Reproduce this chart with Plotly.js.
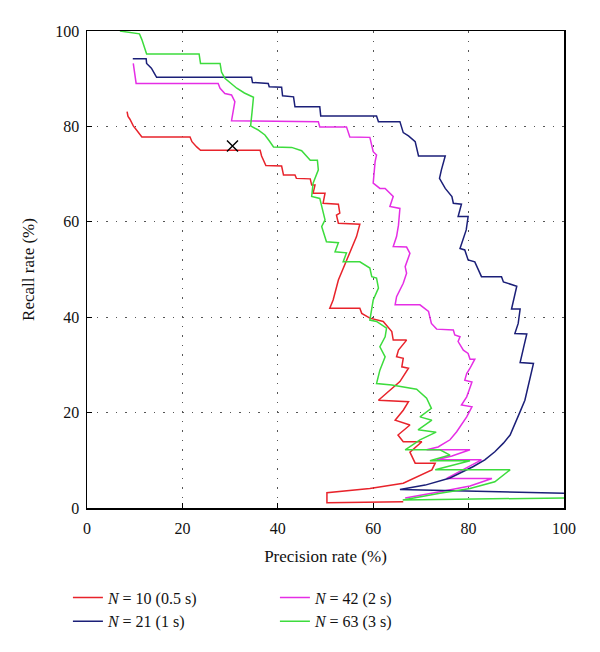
<!DOCTYPE html>
<html>
<head>
<meta charset="utf-8">
<script src="https://cdn.plot.ly/plotly-3.0.1.min.js"></script>
<style>
  html, body { margin: 0; padding: 0; background: #fff; }
  #chart { width: 600px; height: 652px; }
</style>
</head>
<body>
<div id="chart"></div>
<script>
// ── Data: [precision %, recall %] ─────────────────────────────
const redPts = [
  [8.4, 83.1], [8.6, 82.1], [9.0, 81.5], [9.3, 80.8], [9.7, 80.1], [10.1, 79.6],
  [10.8, 78.8], [11.5, 77.8], [21.6, 77.8], [22.0, 76.8], [23.0, 75.7], [23.8, 75.0],
  [36.3, 75.0], [36.6, 73.8], [37.5, 71.8], [40.8, 71.7], [41.2, 69.8], [43.6, 69.8],
  [43.9, 69.1], [46.8, 69.0], [47.1, 67.7], [47.8, 67.7], [47.4, 66.0], [49.9, 66.0],
  [49.5, 63.9], [52.7, 63.7], [53.0, 61.8], [52.3, 61.4], [52.7, 59.7], [57.2, 59.5],
  [56.5, 56.9], [54.4, 52.0], [52.7, 47.8], [51.6, 43.6], [50.9, 41.9], [57.2, 41.9],
  [57.6, 40.8], [59.3, 39.8], [62.1, 39.1], [63.9, 37.0], [64.2, 35.2], [67.0, 35.2],
  [65.3, 33.1], [64.9, 31.7], [66.3, 31.4], [66.0, 29.6], [67.4, 29.3], [65.6, 26.5],
  [63.5, 24.7], [61.1, 22.6], [67.4, 22.3], [66.3, 20.5], [64.6, 18.4], [67.7, 17.4],
  [65.2, 15.3], [66.3, 13.9], [70.2, 13.9], [67.7, 11.7], [68.8, 9.4], [73.0, 9.4],
  [72.3, 8.0], [66.3, 5.2], [59.3, 4.1], [50.3, 3.2], [50.3, 1.1], [66.3, 1.3]
];

const magentaPts = [
  [9.7, 93.2], [9.9, 91.8], [10.1, 90.5], [10.3, 89.0], [27.5, 89.0], [27.9, 88.0],
  [28.9, 86.9], [30.3, 86.6], [31.0, 85.2], [30.7, 83.4], [30.3, 81.2], [48.5, 81.0],
  [48.8, 79.9], [54.4, 79.9], [55.1, 77.8], [59.3, 77.7], [60.0, 74.7], [60.7, 74.0],
  [60.4, 72.6], [60.0, 68.1], [61.4, 67.0], [62.5, 67.0], [64.2, 65.3], [63.5, 63.2],
  [65.6, 62.8], [65.3, 59.3], [64.9, 56.9], [64.2, 54.8], [67.0, 54.7], [67.7, 53.4],
  [66.7, 50.6], [67.0, 49.2], [66.3, 47.1], [64.9, 44.3], [64.6, 42.6], [69.8, 42.6],
  [71.6, 41.2], [72.2, 38.7], [73.3, 37.5], [76.8, 37.3], [77.1, 36.3], [78.2, 35.9],
  [77.8, 34.9], [78.9, 33.1], [79.9, 32.4], [80.3, 31.2], [81.3, 31.2], [80.3, 29.3],
  [79.6, 28.2], [79.2, 26.8], [80.7, 26.4], [80.1, 24.7], [79.6, 23.3], [78.5, 21.6],
  [80.7, 21.2], [79.6, 19.1], [78.5, 17.4], [77.5, 16.0], [76.1, 14.3], [73.6, 12.8],
  [71.2, 12.2], [80.3, 12.2], [76.5, 10.9], [73.3, 10.1], [82.7, 10.1], [79.2, 8.2],
  [75.4, 6.2], [84.9, 6.2], [80.3, 4.6], [74.0, 3.4], [66.7, 2.1]
];

const bluePts = [
  [9.6, 94.2], [12.4, 94.2], [12.5, 93.2], [13.5, 92.2], [14.3, 90.8], [14.6, 90.3],
  [34.5, 90.3], [34.7, 89.2], [38.0, 89.0], [38.2, 88.3], [40.8, 88.2], [41.0, 86.4],
  [43.3, 86.2], [43.6, 84.1], [48.8, 84.1], [49.0, 82.2], [60.7, 82.2], [61.1, 81.0],
  [65.6, 81.0], [66.3, 78.7], [67.4, 78.0], [68.8, 76.8], [69.5, 73.8], [75.1, 73.8],
  [74.3, 70.9], [73.9, 69.1], [75.1, 67.0], [76.5, 65.3], [76.8, 63.9], [78.5, 63.7],
  [77.8, 61.1], [79.9, 61.1], [79.5, 58.3], [78.9, 56.5], [78.2, 54.4], [79.2, 54.1],
  [79.9, 52.0], [81.3, 51.6], [82.7, 48.5], [86.9, 48.5], [87.3, 47.4], [90.1, 46.5],
  [89.0, 41.7], [90.8, 41.7], [90.4, 38.7], [89.7, 36.6], [92.2, 36.5], [91.5, 33.5],
  [90.8, 30.5], [93.6, 30.3], [92.9, 27.5], [92.2, 24.7], [91.8, 22.6], [90.8, 20.2],
  [89.7, 17.8], [88.7, 15.3], [87.3, 13.6], [85.5, 11.8], [83.4, 10.1], [81.0, 8.7],
  [76.1, 6.3], [70.9, 4.8], [65.6, 3.9], [80.3, 3.6], [100, 3.1]
];

const greenPts = [
  [6.9, 100], [11.0, 99.4], [11.5, 98.2], [11.8, 97.2], [12.5, 95.2], [23.5, 95.2],
  [23.8, 93.2], [27.9, 93.2], [28.2, 91.4], [28.9, 90.1], [30.2, 89.0], [31.4, 88.0],
  [33.0, 87.0], [34.9, 86.1], [34.6, 83.0], [34.3, 80.1], [35.8, 79.3], [37.3, 78.2],
  [38.2, 77.0], [39.1, 75.7], [42.9, 75.6], [45.0, 74.9], [46.8, 72.9], [48.3, 72.9],
  [48.5, 70.9], [47.4, 68.1], [47.1, 65.3], [48.8, 64.9], [49.9, 60.4], [49.2, 59.0],
  [50.2, 55.8], [52.7, 55.6], [52.0, 53.7], [54.4, 53.5], [53.7, 51.6], [57.2, 51.6],
  [59.3, 50.3], [59.7, 48.5], [60.7, 48.2], [61.1, 46.1], [60.0, 43.6], [59.3, 39.4],
  [60.7, 39.1], [62.8, 37.7], [62.5, 35.9], [61.4, 33.8], [62.5, 31.7], [61.4, 28.9],
  [60.7, 26.1], [63.9, 25.8], [69.1, 24.9], [71.2, 23.0], [72.2, 20.9], [69.8, 19.1],
  [72.3, 18.4], [69.4, 16.4], [73.2, 15.9], [69.8, 14.3], [66.7, 12.2], [74.0, 12.2],
  [76.1, 11.1], [71.9, 9.9], [80.3, 9.9], [73.0, 8.0], [88.7, 8.0], [85.5, 5.5],
  [80.3, 4.1], [74.0, 3.1], [66.2, 1.7], [100, 2.1]
];

// operating point marked with a cross
const markX = [30.5];
const markY = [75.9];

const xTicks = [0, 20, 40, 60, 80, 100];
const yTicks = [0, 20, 40, 60, 80, 100];

// ── Series styling ────────────────────────────────────────────
const SERIES = [
  { name: "<i>N</i> = 10 (0.5 s)", pts: redPts,     color: "#e8232b" },
  { name: "<i>N</i> = 42 (2 s)",   pts: magentaPts, color: "#e52ee5" },
  { name: "<i>N</i> = 21 (1 s)",   pts: bluePts,    color: "#1b1f78" },
  { name: "<i>N</i> = 63 (3 s)",   pts: greenPts,   color: "#3ddc3d" },
];

const FONT = "Liberation Serif, DejaVu Serif, serif";

const traces = SERIES.map(s => ({
  name: s.name,
  x: s.pts.map(p => p[0]),
  y: s.pts.map(p => p[1]),
  type: "scatter",
  mode: "lines",
  line: { color: s.color, width: 1.5 },
}));

traces.push({
  x: markX,
  y: markY,
  type: "scatter",
  mode: "markers",
  showlegend: false,
  marker: { symbol: "x-thin-open", size: 11, color: "#000", line: { color: "#000", width: 1.4 } },
});

const axisBase = {
  range: [0, 100],
  automargin: false,
  showline: true,
  mirror: true,
  linecolor: "#000",
  linewidth: 1.5,
  ticks: "inside",
  ticklen: 5,
  tickcolor: "#000",
  showgrid: true,
  gridcolor: "#555",
  griddash: "1.5px,8px",
  gridwidth: 1.2,
  zeroline: false,
  tickfont: { family: FONT, size: 16, color: "#111" },
};

const layout = {
  width: 600,
  height: 652,
  paper_bgcolor: "#fff",
  plot_bgcolor: "#fff",
  margin: { l: 87, r: 36, t: 31, b: 144 },
  font: { family: FONT, color: "#111" },
  xaxis: Object.assign({}, axisBase, {
    tickvals: xTicks,
    ticklabelstandoff: 5,
    title: { text: "Precision rate (%)", font: { family: FONT, size: 17 }, standoff: 14 },
  }),
  yaxis: Object.assign({}, axisBase, {
    tickvals: yTicks,
    ticklabelstandoff: 3,
    title: { text: "Recall rate (%)", font: { family: FONT, size: 17 }, standoff: 16 },
  }),
  showlegend: true,
  legend: {
    orientation: "h",
    x: -0.04,
    xanchor: "left",
    y: -0.152,
    yanchor: "top",
    entrywidth: 162,
    tracegroupgap: 0,
    font: { family: FONT, size: 16, color: "#111" },
    bgcolor: "rgba(0,0,0,0)",
  },
};

Plotly.newPlot("chart", traces, layout, { staticPlot: true });
</script>
</body>
</html>
